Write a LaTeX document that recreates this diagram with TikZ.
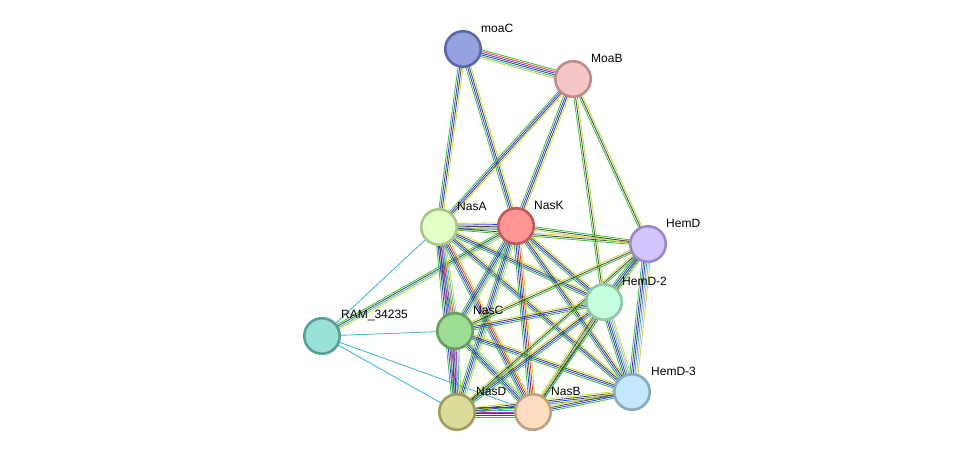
\documentclass[tikz,border=0pt]{standalone}
\usepackage{fontspec}
\setmainfont{Liberation Sans}
\usetikzlibrary{calc,backgrounds}
\definecolor{eG}{HTML}{33C433}
\definecolor{eB}{HTML}{3333FF}
\definecolor{eK}{HTML}{444444}
\definecolor{eY}{HTML}{C5DA2E}
\definecolor{eC}{HTML}{33B5D9}
\definecolor{eR}{HTML}{FF3333}
\definecolor{eM}{HTML}{CC33CC}
\definecolor{eL}{HTML}{B0A8F0}
\newcommand\medge[3]{%
  \gdef\mcount{0}%
  \foreach \c in {#3}{\xdef\mcount{\the\numexpr\mcount+1\relax}}%
  \foreach \c [count=\i] in {#3}{%
    \pgfmathsetmacro\off{(\i-(\mcount+1)/2)*1.65}%
    \draw[color=\c, line width=0.8pt] ($(#1)!\off pt!90:(#2)$) -- ($(#2)!\off pt!-90:(#1)$);
  }}
\tikzset{
  prot/.style={circle, minimum size=35.5pt, inner sep=0pt, line width=2.6pt},
  lab/.style={anchor=west, inner sep=0pt, font=\fontsize{12}{14}\selectfont, text=black}
}
\begin{document}
\begin{tikzpicture}[x=1pt,y=-1pt]
\useasboundingbox (0,0) rectangle (975,458);
\node[prot, fill={rgb,255:red,150;green,162;blue,222}, draw={rgb,255:red,90;green,104;blue,168}] (moaC) at (463,49) {};
\node[prot, fill={rgb,255:red,245;green,198;blue,198}, draw={rgb,255:red,192;green,138;blue,138}] (MoaB) at (573,79) {};
\node[prot, fill={rgb,255:red,226;green,255;blue,200}, draw={rgb,255:red,168;green,200;blue,138}] (NasA) at (439,227) {};
\node[prot, fill={rgb,255:red,255;green,149;blue,149}, draw={rgb,255:red,192;green,90;blue,90}] (NasK) at (516,226) {};
\node[prot, fill={rgb,255:red,211;green,195;blue,255}, draw={rgb,255:red,154;green,136;blue,200}] (HemD) at (648,244) {};
\node[prot, fill={rgb,255:red,198;green,255;blue,224}, draw={rgb,255:red,140;green,200;blue,168}] (HemD2) at (604,302) {};
\node[prot, fill={rgb,255:red,152;green,224;blue,216}, draw={rgb,255:red,90;green,158;blue,152}] (RAM) at (322,336) {};
\node[prot, fill={rgb,255:red,158;green,220;blue,148}, draw={rgb,255:red,102;green,160;blue,94}] (NasC) at (455,331) {};
\node[prot, fill={rgb,255:red,196;green,232;blue,255}, draw={rgb,255:red,134;green,170;blue,192}] (HemD3) at (632,392) {};
\node[prot, fill={rgb,255:red,220;green,220;blue,154}, draw={rgb,255:red,158;green,158;blue,90}] (NasD) at (457,412) {};
\node[prot, fill={rgb,255:red,255;green,220;blue,192}, draw={rgb,255:red,192;green,160;blue,128}] (NasB) at (533,412) {};
\node[lab] (LmoaC) at ([shift={(18,-21)}]moaC.center) {moaC};
\node[lab] (LMoaB) at ([shift={(18,-21)}]MoaB.center) {MoaB};
\node[lab] (LNasA) at ([shift={(18,-21)}]NasA.center) {NasA};
\node[lab] (LNasK) at ([shift={(18,-21)}]NasK.center) {NasK};
\node[lab] (LHemD) at ([shift={(18,-21)}]HemD.center) {HemD};
\node[lab] (LHemD2) at ([shift={(18,-21)}]HemD2.center) {HemD-2};
\node[lab] (LRAM) at ([shift={(19,-21)}]RAM.center) {RAM\_34235};
\node[lab] (LNasC) at ([shift={(18,-21)}]NasC.center) {NasC};
\node[lab] (LHemD3) at ([shift={(19,-21)}]HemD3.center) {HemD-3};
\node[lab] (LNasD) at ([shift={(19,-21)}]NasD.center) {NasD};
\node[lab] (LNasB) at ([shift={(18,-21)}]NasB.center) {NasB};
\begin{pgfonlayer}{background}
\fill[white] (0,0) rectangle (975,458);
\medge{moaC}{MoaB}{eY,eC,eK,eB,eR,eG}
\medge{moaC}{NasA}{eG,eB,eK,eY}
\medge{moaC}{NasK}{eG,eB,eK,eY}
\medge{MoaB}{NasA}{eG,eB,eK,eY}
\medge{MoaB}{NasK}{eG,eB,eK,eY}
\medge{MoaB}{HemD2}{eG,eK,eY}
\medge{MoaB}{HemD}{eG,eK,eY}
\medge{NasA}{NasK}{eG,eB,eK,eB,eY}
\medge{NasA}{HemD}{eG,eK,eY}
\medge{NasK}{HemD}{eY,eK,eG}
\medge{RAM}{NasA}{eC}
\medge{RAM}{NasK}{eY,eC,eK,eG}
\medge{RAM}{NasC}{eC}
\medge{RAM}{NasD}{eC}
\medge{RAM}{NasB}{eC}
\medge{NasA}{NasC}{eG,eB,eK,eR,eC,eY}
\medge{NasA}{NasD}{eG,eB,eK,eM,eC,eY}
\medge{NasA}{NasB}{eG,eB,eK,eR,eY}
\medge{NasA}{HemD2}{eG,eB,eK,eY}
\medge{NasA}{HemD3}{eG,eB,eK,eY}
\medge{NasK}{NasC}{eG,eB,eK,eC,eY}
\medge{NasK}{NasD}{eG,eB,eK,eC,eY}
\medge{NasK}{NasB}{eG,eB,eK,eR,eY}
\medge{NasK}{HemD2}{eG,eB,eK,eY}
\medge{NasK}{HemD3}{eG,eB,eK,eY}
\medge{NasC}{NasD}{eG,eB,eK,eM,eC,eY}
\medge{NasC}{NasB}{eG,eB,eK,eC,eY}
\medge{NasC}{HemD2}{eG,eB,eK,eY}
\medge{NasC}{HemD3}{eG,eB,eK,eY}
\medge{NasC}{HemD}{eG,eK,eY}
\medge{NasD}{NasB}{eG,eB,eK,eM,eC,eY,eB}
\medge{NasD}{HemD2}{eG,eB,eK,eY}
\medge{NasD}{HemD3}{eG,eB,eK,eY}
\medge{NasD}{HemD}{eG,eK,eY}
\medge{NasB}{HemD2}{eG,eB,eK,eY}
\medge{NasB}{HemD3}{eG,eB,eK,eY}
\medge{NasB}{HemD}{eG,eK,eY}
\medge{HemD}{HemD2}{eG,eB,eK,eC,eY}
\medge{HemD}{HemD3}{eG,eB,eK,eC,eL,eY}
\medge{HemD2}{HemD3}{eG,eB,eK,eC,eL,eY}
\end{pgfonlayer}
\end{tikzpicture}
\end{document}
